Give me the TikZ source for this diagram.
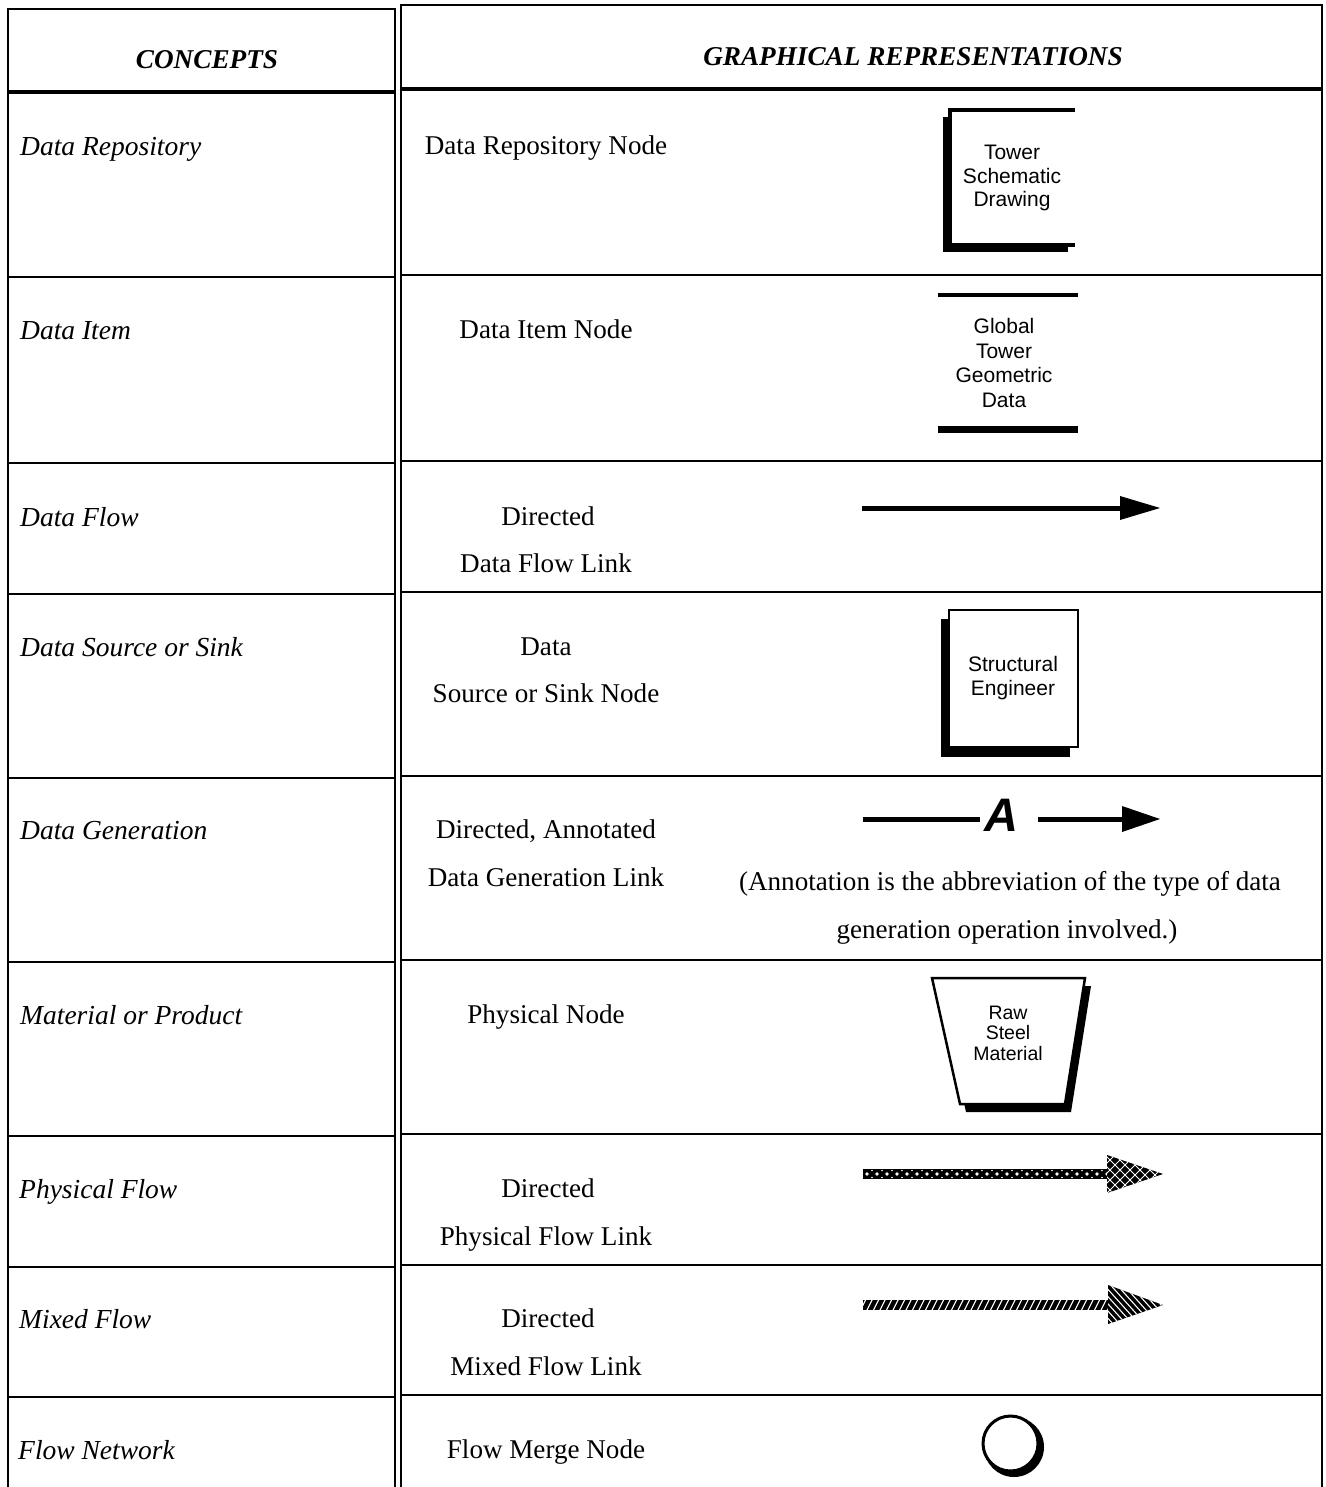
\documentclass[tikz,border=0pt]{standalone}
\usepackage{fontspec}
\setmainfont{Liberation Serif}
\newfontfamily\sansf{Liberation Sans}
\begin{document}
\begin{tikzpicture}[x=1pt,y=-1pt,
  rule/.style={line width=2.6pt},
  headrule/.style={line width=4.5pt},
  headtext/.style={anchor=base, inner sep=0pt, font=\fontsize{27.2}{30}\selectfont\bfseries\itshape},
  concept/.style={anchor=base west, inner sep=0pt, font=\fontsize{27.5}{30}\selectfont\itshape},
  repr/.style={anchor=base, inner sep=0pt, font=\fontsize{27.1}{30}\selectfont},
  boxtext/.style={align=center, inner sep=0pt, font=\fontsize{21}{23.5}\selectfont\sansf},
  outline/.style={line width=2.5pt},
  shaft/.style={line width=5pt},
  hatch/.style={white, line width=1.3pt},
]
\useasboundingbox (0,0) rectangle (1325,1487);

% ---- table frame: two boxes side by side, giving the double rule ----
\draw[rule] (8,1487) -- (8,9) -- (395,9) -- (395,1487);
\draw[rule] (401,1487) -- (401,5) -- (1322,5) -- (1322,1487);
\draw[headrule] (8,92) -- (395,92);
\draw[headrule] (401,89) -- (1322,89);
\foreach \y in {277,463,594,778,962,1136,1267,1397}
  \draw[rule] (8,\y) -- (395,\y);
\foreach \y in {275,461,592,776,960,1134,1265,1395}
  \draw[rule] (401,\y) -- (1322,\y);

% ---- headings ----
\node[headtext] (hconcepts) at (207,69) {CONCEPTS};
\node[headtext] (hgraph) at (913,66) {GRAPHICAL REPRESENTATIONS};

% ---- concept column ----
\node[concept] (c1) at (20,156) {Data Repository};
\node[concept] (c2) at (20,339) {Data Item};
\node[concept] (c3) at (20,526) {Data Flow};
\node[concept] (c4) at (20,656) {Data Source or Sink};
\node[concept] (c5) at (20,839) {Data Generation};
\node[concept] (c6) at (20,1024) {Material or Product};
\node[concept] (c7) at (19,1198) {Physical Flow};
\node[concept] (c8) at (19,1328) {Mixed Flow};
\node[concept] (c9) at (18,1459) {Flow Network};

% ---- representation names ----
\node[repr] (r1) at (546,155) {Data Repository Node};
\node[repr] (r2) at (546,338) {Data Item Node};
\node[repr] (r3a) at (548,525) {Directed};
\node[repr] (r3b) at (546,572) {Data Flow Link};
\node[repr] (r4a) at (546,655) {Data};
\node[repr] (r4b) at (546,702) {Source or Sink Node};
\node[repr] (r5a) at (546,838) {Directed, Annotated};
\node[repr] (r5b) at (546,886) {Data Generation Link};
\node[repr] (r6) at (546,1023) {Physical Node};
\node[repr] (r7a) at (548,1197) {Directed};
\node[repr] (r7b) at (546,1245) {Physical Flow Link};
\node[repr] (r8a) at (548,1327) {Directed};
\node[repr] (r8b) at (546,1375) {Mixed Flow Link};
\node[repr] (r9) at (546,1458) {Flow Merge Node};

% ---- data repository node: open box with drop shadow ----
\fill (943,117) rectangle (1068,252);
\fill[white] (950,110) rectangle (1075,245);
\draw[line width=4pt] (1075,110) -- (950,110) -- (950,245) -- (1075,245);
\node[boxtext] (repo) at (1012,178) {Tower\\Schematic\\Drawing};

% ---- data item node: two bars ----
\draw[line width=4pt] (938,295) -- (1078,295);
\draw[line width=7pt] (938,429) -- (1078,429);
\node[boxtext, font=\fontsize{21}{24.5}\selectfont\sansf] (item) at (1004,363)
  {Global\\Tower\\Geometric\\Data};

% ---- directed data flow link ----
\coordinate (df0) at (862,508);
\coordinate (df1) at (1122,508);
\draw[shaft] (df0) -- (df1);
\fill (1120,496) -- (1160,508) -- (1120,520) -- cycle;

% ---- data source or sink node ----
\fill (941,619) rectangle (1070,757);
\draw[outline, fill=white] (949,610) rectangle (1078,747);
\node[boxtext] (sink) at (1013,678) {Structural\\Engineer};

% ---- annotated data generation link ----
\node[inner sep=0pt, font=\fontsize{47}{50}\selectfont\sansf\bfseries\itshape] (ann) at (1001,815) {A};
\coordinate (dg0) at (863,819);
\coordinate (dg1) at (980,819);
\coordinate (dg2) at (1038,819);
\coordinate (dg3) at (1125,819);
\draw[shaft] (dg0) -- (dg1);
\draw[shaft] (dg2) -- (dg3);
\fill (1122,806) -- (1160,819) -- (1122,832) -- cycle;
\node[repr] (note1) at (1010,890) {(Annotation is the abbreviation of the type of data};
\node[repr] (note2) at (1007,938) {generation operation involved.)};

% ---- physical node: trapezoid with shadow ----
\fill (938,986) -- (1091,986) -- (1071,1112) -- (966,1112) -- cycle;
\draw[outline, fill=white] (932,978) -- (1085,978) -- (1065,1104) -- (960,1104) -- cycle;
\node[boxtext, font=\fontsize{19.5}{20.5}\selectfont\sansf] (phys) at (1008,1033) {Raw\\Steel\\Material};

% ---- directed physical flow link: dotted black arrow ----
\fill (863,1169) rectangle (1110,1179);
\foreach \i in {0,...,24}
  \fill[white] (867+10*\i,1174) circle (1.9);
\foreach \i in {0,...,23}
  {\fill[white] (872+10*\i,1170.5) circle (0.8);
   \fill[white] (872+10*\i,1177.5) circle (0.8);}
\begin{scope}
  \clip (1107,1155) -- (1163,1174) -- (1107,1193) -- cycle;
  \fill (1100,1150) rectangle (1170,1200);
  \foreach \k in {-6,...,8}
    {\draw[white, line width=1pt] (1100+10*\k,1150) -- +(50,50);
     \draw[white, line width=1pt] (1100+10*\k,1200) -- +(50,-50);}
\end{scope}

% ---- directed mixed flow link: hatched black arrow ----
\begin{scope}
  \clip (863,1300) rectangle (1110,1310);
  \fill (863,1300) rectangle (1110,1310);
  \foreach \i in {0,...,40}
    \draw[white, line width=1.1pt] (860+6.5*\i,1311) -- +(6,-12);
\end{scope}
\begin{scope}
  \clip (1108,1285) -- (1163,1305) -- (1108,1324) -- cycle;
  \fill (1100,1280) rectangle (1170,1330);
  \foreach \k in {-8,...,12}
    \draw[white, line width=1.1pt] (1080+6.5*\k,1280) -- +(45,50);
\end{scope}

% ---- flow merge node: circle with shadow ----
\fill (1014,1447) circle (30);
\draw[line width=3pt, fill=white] (1010.5,1443.5) circle (27.5);

\end{tikzpicture}
\end{document}
